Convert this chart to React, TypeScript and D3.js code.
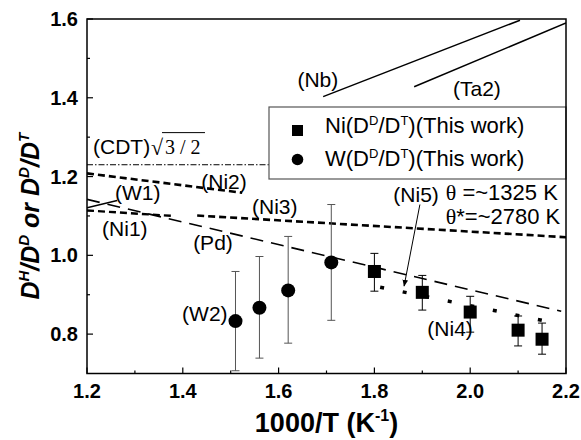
import * as d3 from "d3";

// axis ticks
const xTicks = [1.2, 1.4, 1.6, 1.8, 2.0, 2.2];
const xMinor = [1.3, 1.5, 1.7, 1.9, 2.1];
const yTicks = [0.8, 1.0, 1.2, 1.4, 1.6];
const yMinor = [0.9, 1.1, 1.3, 1.5];

// Ni(D^D/D^T) (This work)
const niX = [1.8, 1.9, 2.0, 2.1, 2.15];
const niY = [0.959, 0.906, 0.856, 0.81, 0.787];
const niLow = [0.909, 0.861, 0.805, 0.77, 0.749];
const niHigh = [1.005, 0.949, 0.896, 0.846, 0.828];

// W(D^D/D^T) (This work)
const wX = [1.51, 1.56, 1.62, 1.71];
const wY = [0.833, 0.867, 0.911, 0.982];
const wLow = [0.707, 0.739, 0.777, 0.835];
const wHigh = [0.959, 0.997, 1.048, 1.129];

// literature lines, [x, y] end points
const nbLine: [number, number][] = [[1.693, 1.403], [2.104, 1.597]];
const ta2Line: [number, number][] = [[1.883, 1.428], [2.2, 1.59]];
const cdtLine: [number, number][] = [[1.2, 1.23], [1.6, 1.23]];
const ni2Line: [number, number][] = [[1.2, 1.208], [1.524, 1.159]];
const w1Line: [number, number][] = [[1.2, 1.121], [1.263, 1.139]];
const ni1Line: [number, number][] = [[1.2, 1.114], [1.38, 1.1]];
const pdLine: [number, number][] = [[1.2, 1.142], [2.19, 0.858]];
const ni3Line: [number, number][] = [[1.43, 1.101], [2.2, 1.046]];
const ni5Line: [number, number][] = [[1.812, 0.919], [2.15, 0.835]];
const ni5Arrow: [number, number][] = [[1.895, 1.129], [1.862, 0.922]];

// line labels (data coords of label centre)
const labels = [
  { t: "(Nb)", x: 1.682, y: 1.446 },
  { t: "(Ta2)", x: 2.014, y: 1.423 },
  { t: "(Ni2)", x: 1.486, y: 1.187 },
  { t: "(W1)", x: 1.306, y: 1.159 },
  { t: "(Ni3)", x: 1.592, y: 1.124 },
  { t: "(Ni1)", x: 1.279, y: 1.068 },
  { t: "(Pd)", x: 1.463, y: 1.033 },
  { t: "(W2)", x: 1.446, y: 0.851 },
  { t: "(Ni4)", x: 1.958, y: 0.813 },
  { t: "(Ni5)", x: 1.887, y: 1.154 },
];

const W = 581;
const H = 440;
const left = 87, right = 566, top = 19, bottom = 373.5;

export default function App() {
  const x = d3.scaleLinear().domain([1.2, 2.2]).range([left, right]);
  const y = d3.scaleLinear().domain([0.7, 1.6]).range([bottom, top]);
  const line = d3.line<[number, number]>().x(d => x(d[0])).y(d => y(d[1]));

  const font = "'Liberation Sans', Arial, sans-serif";
  const serif = "'Liberation Serif', 'Times New Roman', serif";

  const refs = [
    { d: nbLine, w: 1.5, dash: "none" },
    { d: ta2Line, w: 1.5, dash: "none" },
    { d: cdtLine, w: 1, dash: "6 2 1.5 2" },
    { d: ni2Line, w: 2.6, dash: "7 4" },
    { d: w1Line, w: 1.5, dash: "none" },
    { d: ni1Line, w: 2.4, dash: "7 4" },
    { d: pdLine, w: 1.6, dash: "13 8" },
    { d: ni3Line, w: 2.6, dash: "7 4" },
    { d: ni5Line, w: 3.5, dash: "4 19" },
  ];

  const cap = 4;
  const cdtX = x(1.2125);
  const cdtY = y(1.276);

  return (
    <svg width={W} height={H} style={{ position: "absolute", left: 0, top: 0, background: "#fff" }}>
      <defs>
        <marker id="ah" viewBox="0 0 10 10" refX="9" refY="5" markerWidth="7" markerHeight="7" orient="auto">
          <path d="M0,1 L10,5 L0,9 Z" fill="#000" />
        </marker>
        <clipPath id="pc">
          <rect x={left} y={top} width={right - left} height={bottom - top} />
        </clipPath>
      </defs>

      <g clipPath="url(#pc)">
        {refs.map((r, i) => (
          <path key={i} d={line(r.d) || ""} fill="none" stroke="#000" strokeWidth={r.w}
            strokeDasharray={r.dash} />
        ))}
      </g>

      {/* legend */}
      <rect x={269} y={107} width={right - 269} height={72} fill="#fff" stroke="#555" strokeWidth={1.2} />
      <rect x={292} y={125} width={11} height={11} fill="#000" />
      <circle cx={297.5} cy={159.5} r={5.8} fill="#000" />
      <text x={325} y={133} fontFamily={font} fontSize={22}>
        Ni(D<tspan dy={-8} fontSize={13}>D</tspan><tspan dy={8}>/D</tspan>
        <tspan dy={-8} fontSize={13}>T</tspan><tspan dy={8}>)(This work)</tspan>
      </text>
      <text x={325} y={166} fontFamily={font} fontSize={22}>
        W(D<tspan dy={-8} fontSize={13}>D</tspan><tspan dy={8}>/D</tspan>
        <tspan dy={-8} fontSize={13}>T</tspan><tspan dy={8}>)(This work)</tspan>
      </text>

      {/* arrow to Ni5 */}
      <path d={line(ni5Arrow) || ""} stroke="#000" strokeWidth={1} fill="none" markerEnd="url(#ah)" />

      {/* error bars */}
      {wX.map((v, i) => (
        <g key={"we" + i} stroke="#555" strokeWidth={1}>
          <line x1={x(v)} x2={x(v)} y1={y(wLow[i])} y2={y(wHigh[i])} />
          <line x1={x(v) - cap} x2={x(v) + cap} y1={y(wLow[i])} y2={y(wLow[i])} />
          <line x1={x(v) - cap} x2={x(v) + cap} y1={y(wHigh[i])} y2={y(wHigh[i])} />
        </g>
      ))}
      {niX.map((v, i) => (
        <g key={"ne" + i} stroke="#000" strokeWidth={1}>
          <line x1={x(v)} x2={x(v)} y1={y(niLow[i])} y2={y(niHigh[i])} />
          <line x1={x(v) - cap} x2={x(v) + cap} y1={y(niLow[i])} y2={y(niLow[i])} />
          <line x1={x(v) - cap} x2={x(v) + cap} y1={y(niHigh[i])} y2={y(niHigh[i])} />
        </g>
      ))}
      {wX.map((v, i) => (
        <circle key={"w" + i} cx={x(v)} cy={y(wY[i])} r={7} fill="#000" />
      ))}
      {niX.map((v, i) => (
        <rect key={"n" + i} x={x(v) - 6.5} y={y(niY[i]) - 6.5} width={13} height={13} fill="#000" />
      ))}

      {/* labels */}
      {labels.map(l => (
        <text key={l.t} x={x(l.x)} y={y(l.y)} dy="0.35em" textAnchor="middle" fontFamily={font} fontSize={21}>
          {l.t}
        </text>
      ))}
      <text x={cdtX} y={cdtY} dy="0.35em" fontFamily={font} fontSize={21}>(CDT)</text>
      <text x={cdtX + 58} y={cdtY + 8} fontFamily={serif} fontSize={22}>√</text>
      <line x1={cdtX + 69} x2={cdtX + 112} y1={cdtY - 14} y2={cdtY - 14} stroke="#000" strokeWidth={1} />
      <text x={cdtX + 72} y={cdtY + 7} fontFamily={serif} fontSize={20}>3 / 2</text>

      <text x={x(1.949)} y={y(1.159)} dy="0.35em" fontFamily={font} fontSize={22}>
        <tspan fontFamily={serif}>θ</tspan> =~1325 K
      </text>
      <text x={x(1.949)} y={y(1.099)} dy="0.35em" fontFamily={font} fontSize={22}>
        <tspan fontFamily={serif}>θ</tspan>*=~2780 K
      </text>

      {/* frame */}
      <rect x={left} y={top} width={right - left} height={bottom - top} fill="none" stroke="#000" strokeWidth={1.5} />

      {/* ticks */}
      {xTicks.map(t => (
        <g key={"xt" + t}>
          <line x1={x(t)} x2={x(t)} y1={bottom} y2={bottom - 6} stroke="#000" strokeWidth={1.2} />
          <text x={x(t)} y={398} textAnchor="middle" fontFamily={font} fontWeight="bold" fontSize={20}>
            {t.toFixed(1)}
          </text>
        </g>
      ))}
      {xMinor.map(t => (
        <line key={"xm" + t} x1={x(t)} x2={x(t)} y1={bottom} y2={bottom - 3} stroke="#000" strokeWidth={1.2} />
      ))}
      {yTicks.map(t => (
        <g key={"yt" + t}>
          <line x1={left} x2={left + 6} y1={y(t)} y2={y(t)} stroke="#000" strokeWidth={1.2} />
          <text x={78} y={y(t)} dy="0.35em" textAnchor="end" fontFamily={font} fontWeight="bold" fontSize={20}>
            {t.toFixed(1)}
          </text>
        </g>
      ))}
      {yMinor.map(t => (
        <line key={"ym" + t} x1={left} x2={left + 3} y1={y(t)} y2={y(t)} stroke="#000" strokeWidth={1.2} />
      ))}

      {/* axis titles */}
      <text x={(left + right) / 2} y={432} textAnchor="middle" fontFamily={font} fontWeight="bold" fontSize={27}>
        1000/T (K<tspan dy={-11} fontSize={16}>-1</tspan><tspan dy={11}>)</tspan>
      </text>
      <text transform={`translate(39, ${(top + bottom) / 2 + 20}) rotate(-90)`} textAnchor="middle"
        fontFamily={font} fontWeight="bold" fontStyle="italic" fontSize={25}>
        D<tspan dy={-10} fontSize={15}>H</tspan><tspan dy={10}>/D</tspan>
        <tspan dy={-10} fontSize={15}>D</tspan><tspan dy={10}> or D</tspan>
        <tspan dy={-10} fontSize={15}>D</tspan><tspan dy={10}>/D</tspan>
        <tspan dy={-10} fontSize={15}>T</tspan>
      </text>
    </svg>
  );
}
